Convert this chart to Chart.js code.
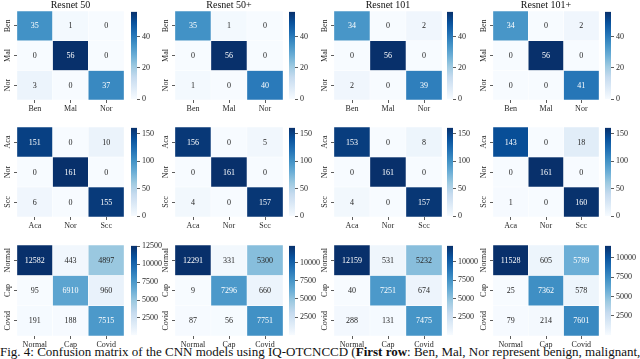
<!DOCTYPE html>
<html>
<head>
<meta charset="utf-8">
<script src="https://cdn.jsdelivr.net/npm/chart.js@4.4.0/dist/chart.umd.min.js"></script>
<style>
  html, body { margin: 0; padding: 0; background: #fff; }
  #fig { position: relative; width: 640px; height: 359px; overflow: hidden; background: #fff; }
  #fig canvas { position: absolute; }
  #caption {
    position: absolute; left: 0; top: 345px; width: 640px;
    font-family: "Liberation Serif", serif; font-size: 13px; line-height: 13px; color: #111;
    text-align: justify; text-align-last: justify; white-space: nowrap;
  }
</style>
</head>
<body>
<div id="fig">
  <div id="caption">Fig. 4: Confusion matrix of the CNN models using IQ-OTCNCCD (<b>First row</b>: Ben, Mal, Nor represent benign, malignant,</div>
</div>
<script>
const modelTitles = ['Resnet 50', 'Resnet 50+', 'Resnet 101', 'Resnet 101+'];

// class labels per row of the figure
const iqLabels = ['Ben', 'Mal', 'Nor'];
const lungLabels = ['Aca', 'Nor', 'Scc'];
const covidLabels = ['Normal', 'Cap', 'Covid'];

// confusion matrices, rows = true class (top to bottom), cols = predicted
const iqResnet50 = [[35, 1, 0], [0, 56, 0], [3, 0, 37]];
const iqResnet50p = [[35, 1, 0], [0, 56, 0], [1, 0, 40]];
const iqResnet101 = [[34, 0, 2], [0, 56, 0], [2, 0, 39]];
const iqResnet101p = [[34, 0, 2], [0, 56, 0], [0, 0, 41]];

const lungResnet50 = [[151, 0, 10], [0, 161, 0], [6, 0, 155]];
const lungResnet50p = [[156, 0, 5], [0, 161, 0], [4, 0, 157]];
const lungResnet101 = [[153, 0, 8], [0, 161, 0], [4, 0, 157]];
const lungResnet101p = [[143, 0, 18], [0, 161, 0], [1, 0, 160]];

const covidResnet50 = [[12582, 443, 4897], [95, 6910, 960], [191, 188, 7515]];
const covidResnet50p = [[12291, 331, 5300], [9, 7296, 660], [87, 56, 7751]];
const covidResnet101 = [[12159, 531, 5232], [40, 7251, 674], [288, 131, 7475]];
const covidResnet101p = [[11528, 605, 5789], [25, 7362, 578], [79, 214, 7601]];

// colorbar tick labels
const iqCbarTicks = [0, 20, 40];
const lungCbarTicks = [0, 50, 100, 150];
const covidCbarTicks50 = [2500, 5000, 7500, 10000, 12500];
const covidCbarTicks = [2500, 5000, 7500, 10000];

const figRows = [
  { labels: iqLabels, mats: [iqResnet50, iqResnet50p, iqResnet101, iqResnet101p],
    ticks: [iqCbarTicks, iqCbarTicks, iqCbarTicks, iqCbarTicks], titled: true },
  { labels: lungLabels, mats: [lungResnet50, lungResnet50p, lungResnet101, lungResnet101p],
    ticks: [lungCbarTicks, lungCbarTicks, lungCbarTicks, lungCbarTicks], titled: false },
  { labels: covidLabels, mats: [covidResnet50, covidResnet50p, covidResnet101, covidResnet101p],
    ticks: [covidCbarTicks50, covidCbarTicks, covidCbarTicks, covidCbarTicks], titled: false },
];

// layout (pixels)
const colLefts = [17, 175, 334, 493];
const colWidths = [107, 108, 108, 106];
const cbarLefts = [131, 289, 447, 605];
const rowTops = [11, 127, 245];
const rowHeights = [89, 90, 91];

const FONT = 'Liberation Serif';
const INK = '#262626';
Chart.defaults.font.family = FONT;

// matplotlib "Blues"
const BLUES = [[247,251,255],[222,235,247],[198,219,239],[158,202,225],[107,174,214],
               [66,146,198],[33,113,181],[8,81,156],[8,48,107]];

function blues(t) {
  t = Math.max(0, Math.min(1, t));
  const p = t * (BLUES.length - 1);
  const i = Math.min(Math.floor(p), BLUES.length - 2);
  const f = p - i;
  return BLUES[i].map((v, k) => Math.round(v + (BLUES[i + 1][k] - v) * f));
}
const css = rgb => `rgb(${rgb[0]},${rgb[1]},${rgb[2]})`;

function luminance(rgb) {
  const lin = rgb.map(v => { v /= 255; return v <= 0.03928 ? v / 12.92 : Math.pow((v + 0.055) / 1.055, 2.4); });
  return 0.2126 * lin[0] + 0.7152 * lin[1] + 0.0722 * lin[2];
}

const fig = document.getElementById('fig');
function addCanvas(left, top, w, h) {
  const c = document.createElement('canvas');
  c.width = w; c.height = h;
  c.style.left = left + 'px'; c.style.top = top + 'px';
  c.style.width = w + 'px'; c.style.height = h + 'px';
  fig.appendChild(c);
  return c;
}

const tickGrid = { display: true, drawOnChartArea: false, offset: false, tickLength: 3, color: '#333', lineWidth: 0.8 };

function drawHeatmap(canvas, labels, matrix, title) {
  const flat = matrix.flat();
  const vmin = Math.min(...flat), vmax = Math.max(...flat);
  const colorOf = v => blues((v - vmin) / (vmax - vmin));

  const cellText = {
    id: 'cellText',
    afterDatasetsDraw(chart) {
      const ctx = chart.ctx;
      ctx.save();
      ctx.font = `8px "${FONT}"`;
      ctx.textAlign = 'center';
      ctx.textBaseline = 'middle';
      chart.data.datasets.forEach((ds, r) => {
        chart.getDatasetMeta(r).data.forEach((bar, c) => {
          const v = matrix[r][c];
          const p = bar.getProps(['x', 'y', 'base'], true);
          ctx.fillStyle = luminance(colorOf(v)) > 0.408 ? INK : '#fff';
          ctx.fillText(String(v), p.x, (p.y + p.base) / 2 + 0.5);
        });
      });
      ctx.restore();
    }
  };

  const sideLabels = {
    id: 'sideLabels',
    afterDraw(chart) {
      const ctx = chart.ctx, ys = chart.scales.y;
      ctx.save();
      ctx.font = `8px "${FONT}"`;
      ctx.fillStyle = INK;
      ctx.textAlign = 'center';
      ctx.textBaseline = 'middle';
      labels.forEach((lab, i) => {
        ctx.save();
        ctx.translate(chart.chartArea.left - 9, ys.getPixelForValue(i + 0.5));
        ctx.rotate(-Math.PI / 2);
        ctx.fillText(lab, 0, 0);
        ctx.restore();
      });
      if (title) {
        ctx.font = `10px "${FONT}"`;
        ctx.fillStyle = '#111';
        ctx.fillText(title, (chart.chartArea.left + chart.chartArea.right) / 2, chart.chartArea.top - 6);
      }
      ctx.restore();
    }
  };

  new Chart(canvas, {
    type: 'bar',
    data: {
      labels: labels,
      datasets: matrix.map(row => ({
        data: row.map(() => 1),
        backgroundColor: row.map(v => css(colorOf(v))),
        borderColor: '#fff',
        borderWidth: 0.5,
        borderSkipped: false,
        barPercentage: 1,
        categoryPercentage: 1
      }))
    },
    options: {
      responsive: false,
      animation: false,
      layout: { padding: { top: 11, left: 0, right: 0, bottom: 0 } },
      plugins: { legend: { display: false }, tooltip: { enabled: false } },
      scales: {
        x: {
          stacked: true,
          grid: tickGrid,
          border: { display: false },
          ticks: { font: { size: 8 }, color: INK, padding: 1, maxRotation: 0, autoSkip: false },
          afterFit: s => { s.height = 14; }
        },
        y: {
          stacked: true,
          reverse: true,
          min: 0,
          max: labels.length,
          grid: tickGrid,
          border: { display: false },
          ticks: { display: false },
          afterBuildTicks: s => { s.ticks = labels.map((_, i) => ({ value: i + 0.5 })); },
          afterFit: s => { s.width = 17; }
        }
      }
    },
    plugins: [cellText, sideLabels]
  });
}

function drawColorbar(canvas, matrix, ticks) {
  const flat = matrix.flat();
  const vmin = Math.min(...flat), vmax = Math.max(...flat);
  const barW = 6;

  const fill = ctx => {
    const area = ctx.chart.chartArea;
    if (!area) return css(blues(0.5));
    const g = ctx.chart.ctx.createLinearGradient(0, area.bottom, 0, area.top);
    BLUES.forEach((c, i) => g.addColorStop(i / (BLUES.length - 1), css(c)));
    return g;
  };

  new Chart(canvas, {
    type: 'bar',
    data: {
      labels: [''],
      datasets: [{ data: [[vmin, vmax]], backgroundColor: fill, borderWidth: 0, barPercentage: 1, categoryPercentage: 1 }]
    },
    options: {
      responsive: false,
      animation: false,
      layout: { padding: { top: 6, bottom: 6, left: 0, right: 0 } },
      plugins: { legend: { display: false }, tooltip: { enabled: false } },
      scales: {
        x: { display: false },
        y: {
          position: 'right',
          min: vmin,
          max: vmax,
          grid: tickGrid,
          border: { display: false },
          ticks: { font: { size: 8 }, color: INK, padding: 2, callback: v => String(v) },
          afterBuildTicks: s => { s.ticks = ticks.map(v => ({ value: v })); },
          afterFit: s => { s.width = canvas.width - barW; }
        }
      }
    }
  });
}

figRows.forEach((row, r) => {
  row.mats.forEach((mat, c) => {
    const top = rowTops[r], h = rowHeights[r];
    const hm = addCanvas(colLefts[c] - 17, top - 11, colWidths[c] + 17, h + 11 + 14);
    drawHeatmap(hm, row.labels, mat, row.titled ? modelTitles[c] : null);
    const cb = addCanvas(cbarLefts[c], top - 6, 36, h + 12);
    drawColorbar(cb, mat, row.ticks[c]);
  });
});
</script>
</body>
</html>
